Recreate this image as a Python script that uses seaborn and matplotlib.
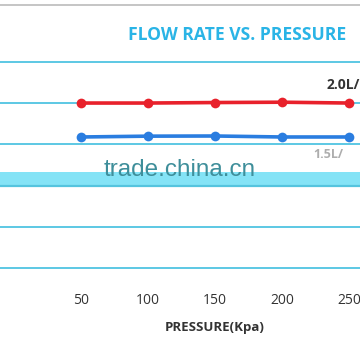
import matplotlib
matplotlib.use("Agg")
import matplotlib.pyplot as plt
import seaborn as sns
import pandas as pd
from matplotlib.lines import Line2D

pressure = [50, 100, 150, 200, 250]
flow_20 = [2.002, 2.002, 2.008, 2.012, 2.002]
flow_15 = [1.590, 1.600, 1.602, 1.590, 1.590]
series_names = ["2.0L/min", "1.5L/min"]
series_labels_visible = ["2.0L/", "1.5L/"]
x_ticks = [50, 100, 150, 200, 250]
y_grid = [0, 0.5, 1.0, 1.5, 2.0, 2.5]

df = pd.DataFrame({
    "pressure": pressure * 2,
    "flow": flow_20 + flow_15,
    "series": [series_names[0]] * 5 + [series_names[1]] * 5,
})

sns.set_style("white")
plt.rcParams["font.family"] = ["Open Sans", "DejaVu Sans"]

fig = plt.figure(figsize=(3.6, 3.6), dpi=100)
ax = fig.add_axes([0, 80 / 360, 1, 230 / 360])
ppu = 82.4
ax.set_xlim(-10.4, 258.2)
ax.set_ylim(-12 / ppu, 2.5 + 12 / ppu)

for v in y_grid:
    ax.axhline(v, color="#5cc8e4", lw=1.4, zorder=1)

ax.axhspan(1.0, 1.0 + 14 / ppu, color="#84e3f6", lw=0, zorder=2)
ax.axhline(1.0, color="#55c4de", lw=1.6, zorder=2)

sns.lineplot(data=df, x="pressure", y="flow", hue="series",
             palette={"2.0L/min": "#e8212b", "1.5L/min": "#2a7de0"},
             marker="o", markersize=7, markeredgewidth=0, lw=2.6,
             legend=False, ax=ax, zorder=3)

for s in ax.spines.values():
    s.set_visible(False)
ax.set_yticks([])
ax.set_xticks(x_ticks)
ax.set_xticklabels([str(t) for t in x_ticks], fontsize=10, color="#333333")
ax.tick_params(axis="x", length=0, pad=9)
ax.set_xlabel("")
ax.set_ylabel("")

fig.text(327 / 360, 1 - 85 / 360, series_labels_visible[0],
         fontsize=10, color="#333333", fontweight="bold", va="center", ha="left")
fig.text(313 / 360, 1 - 155 / 360, series_labels_visible[1],
         fontsize=9, color="#777777", fontweight="bold", va="center", ha="left", alpha=0.6)

fig.text(237 / 360, 1 - 35 / 360, "FLOW RATE VS. PRESSURE", fontsize=12.6,
         fontweight="bold", color="#2ab4e6", ha="center", va="center")
fig.text(215 / 360, 1 - 327 / 360, "PRESSURE(Kpa)", fontsize=9.5,
         fontweight="bold", color="#333333", ha="center", va="center")

fig.text(180 / 360, 1 - 170 / 360, "trade.china.cn", fontsize=17.5,
         color="#3e8e9a", ha="center", va="center", family=["Liberation Sans", "DejaVu Sans"],
         zorder=5)

fig.add_artist(Line2D([0, 1], [1 - 5 / 360, 1 - 5 / 360], transform=fig.transFigure,
                      color="#bbbbbb", lw=1.2))

fig.savefig("out.png", dpi=100)
